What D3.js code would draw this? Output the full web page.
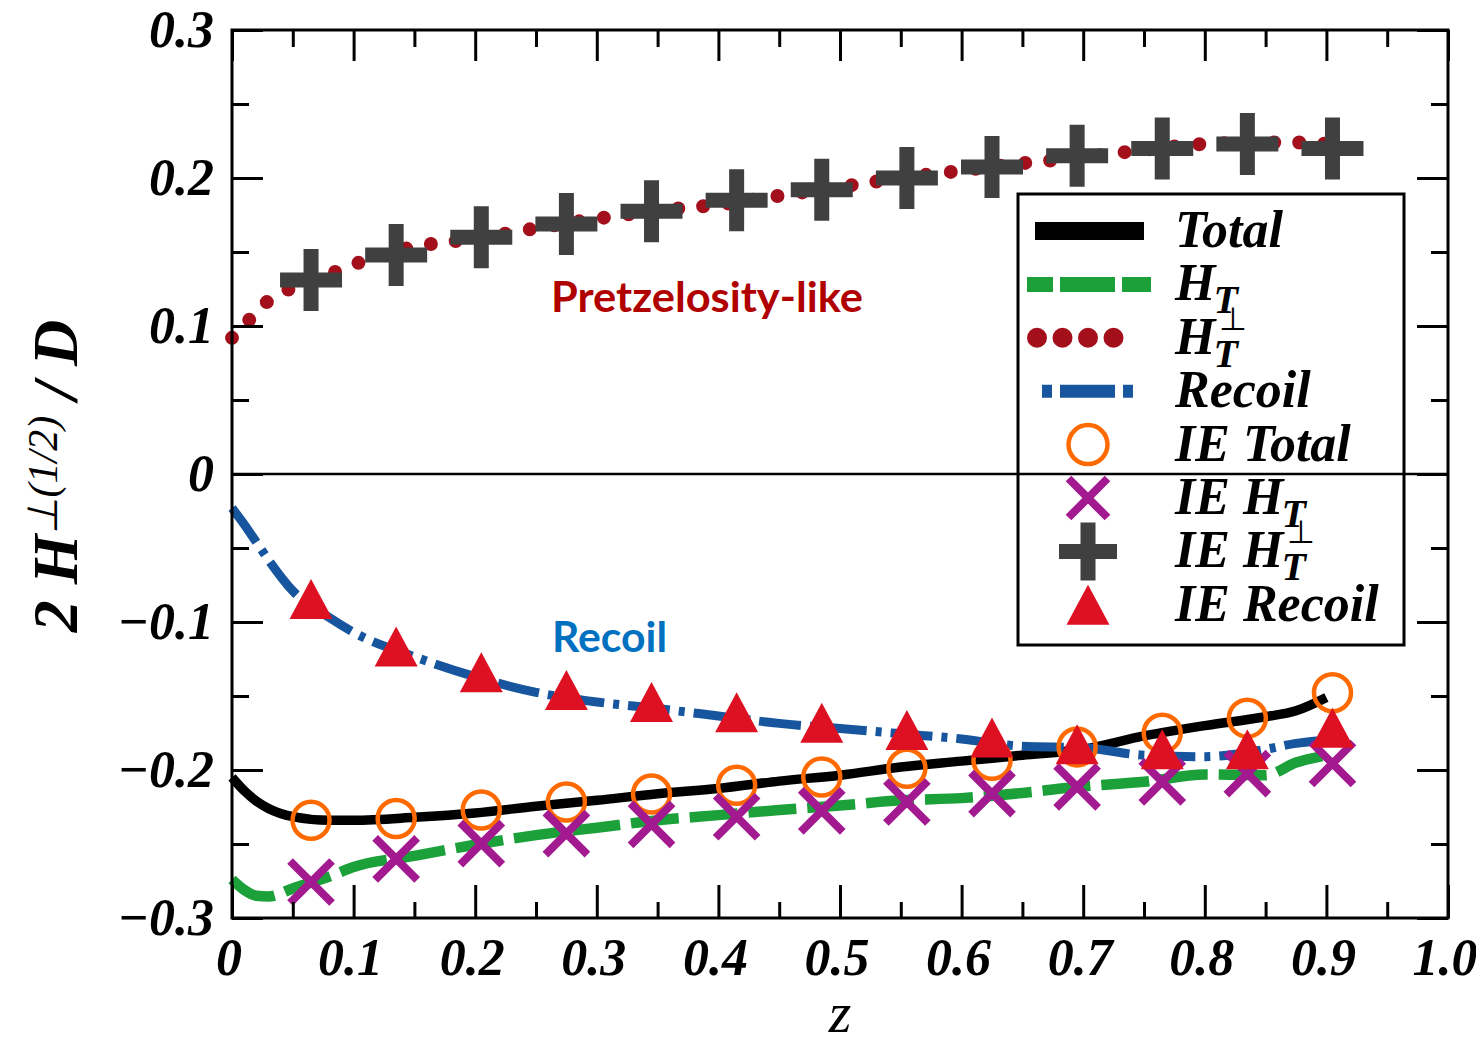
<!DOCTYPE html>
<html>
<head>
<meta charset="utf-8">
<script src="https://cdn.jsdelivr.net/npm/d3@7"></script>
<style>
  body { margin: 0; background: #fff; }
  svg { display: block; }
  .serif { font-family: "Liberation Serif", "Times New Roman", serif; font-style: italic; font-weight: bold; fill: #000; }
  .note { font-family: Lato, "Open Sans", sans-serif; font-weight: bold; }
</style>
</head>
<body>
<svg id="chart" width="1476" height="1046"></svg>
<script>
const zCurve = [0, 0.01, 0.02, 0.03, 0.05, 0.08, 0.1, 0.15, 0.2, 0.25, 0.3, 0.35, 0.4, 0.45,
                0.5, 0.55, 0.6, 0.65, 0.7, 0.75, 0.8, 0.85, 0.875, 0.9, 0.915];
const total  = [-0.205, -0.214, -0.221, -0.226, -0.2315, -0.234, -0.234, -0.232, -0.229, -0.2245,
                -0.2205, -0.216, -0.2125, -0.2075, -0.2035, -0.198, -0.194, -0.190, -0.186, -0.177,
                -0.170, -0.164, -0.160, -0.151, null];
const hT     = [-0.274, -0.281, -0.285, -0.2855, -0.280, -0.272, -0.2655, -0.258, -0.2505, -0.244,
                -0.239, -0.234, -0.2305, -0.227, -0.224, -0.2205, -0.219, -0.2155, -0.211, -0.208,
                -0.203, -0.2035, -0.195, -0.190, null];
const hTperp = [0.092, 0.100, 0.110, 0.117, 0.126, 0.135, 0.1415, 0.1535, 0.159, 0.166,
                0.1725, 0.178, 0.182, 0.188, 0.194, 0.200, 0.205, 0.210, 0.214, 0.219,
                0.223, 0.224, 0.224, 0.223, 0.222];
const recoil = [-0.023, -0.034, -0.046, -0.058, -0.079, -0.097, -0.107, -0.1235, -0.137, -0.1475,
                -0.154, -0.1585, -0.1635, -0.1685, -0.172, -0.1755, -0.179, -0.184, -0.185, -0.190,
                -0.191, -0.186, -0.182, -0.180, -0.180];

// IE points
const zIE      = [0.065, 0.135, 0.205, 0.275, 0.345, 0.415, 0.485, 0.555, 0.625, 0.695, 0.765, 0.835, 0.905];
const ieTotal  = [-0.234, -0.2328, -0.227, -0.2216, -0.2163, -0.2103, -0.2047, -0.1988, -0.1934, -0.1844, -0.1751, -0.165, -0.1478];
const ieHT     = [-0.2757, -0.260, -0.2497, -0.243, -0.2367, -0.2316, -0.2276, -0.2216, -0.216, -0.2114, -0.208, -0.2024, -0.1956];
const ieHTperp = [0.131, 0.148, 0.160, 0.169, 0.1775, 0.185, 0.192, 0.200, 0.2075, 0.215, 0.220, 0.223, 0.220];
const ieRecoil = [-0.0845, -0.1166, -0.134, -0.146, -0.154, -0.161, -0.168, -0.173, -0.178, -0.1826, -0.186, -0.186, -0.1714];

const xTicks = [0, 0.1, 0.2, 0.3, 0.4, 0.5, 0.6, 0.7, 0.8, 0.9, 1.0];
const xTickLabels = ["0", "0.1", "0.2", "0.3", "0.4", "0.5", "0.6", "0.7", "0.8", "0.9", "1.0"];
const yTicks = [-0.3, -0.2, -0.1, 0, 0.1, 0.2, 0.3];
const yTickLabels = ["\u22120.3", "\u22120.2", "\u22120.1", "0", "0.1", "0.2", "0.3"];

const colors = {
    total: "#000000", hT: "#1ba03a", hTperp: "#a40f1c", recoil: "#17569e",
    ieTotal: "#ff6a00", ieHT: "#a3198f", ieHTperp: "#404040", ieRecoil: "#dd1122"
};

const svg = d3.select("#chart");
const plot = {left: 232, right: 1448, top: 30, bottom: 918};

const x = d3.scaleLinear().domain([0, 1]).range([plot.left, plot.right]);
const y = d3.scaleLinear().domain([-0.3, 0.3]).range([plot.bottom, plot.top]);

// zero line
svg.append("line")
    .attr("x1", plot.left).attr("x2", plot.right)
    .attr("y1", y(0)).attr("y2", y(0))
    .attr("stroke", "#000").attr("stroke-width", 2.5);

// model curves
const line = d3.line()
    .defined(d => d[1] != null)
    .x(d => x(d[0]))
    .y(d => y(d[1]))
    .curve(d3.curveMonotoneX);

const curves = [
    {vals: total,  color: colors.total,  width: 9.5, dash: null},
    {vals: hT,     color: colors.hT,     width: 10.5, dash: "48 11"},
    {vals: hTperp, color: colors.hTperp, width: 14, dash: "0 25", cap: "round"},
    {vals: recoil, color: colors.recoil, width: 9,  dash: "42 9 6 9"}
];

curves.forEach(c => {
    svg.append("path")
        .datum(zCurve.map((z, i) => [z, c.vals[i]]))
        .attr("d", line)
        .attr("fill", "none")
        .attr("stroke", c.color)
        .attr("stroke-width", c.width)
        .attr("stroke-linecap", c.cap || "butt")
        .attr("stroke-dasharray", c.dash);
});

// marker shapes
function drawCircle(g, cx, cy, r) {
    g.append("circle").attr("cx", cx).attr("cy", cy).attr("r", r || 18.5)
        .attr("fill", "none").attr("stroke", colors.ieTotal).attr("stroke-width", 4.5);
}
function drawCross(g, cx, cy, h) {
    h = h || 21;
    g.append("path")
        .attr("d", `M${cx - h},${cy - h}L${cx + h},${cy + h}M${cx - h},${cy + h}L${cx + h},${cy - h}`)
        .attr("stroke", colors.ieHT).attr("stroke-width", 8).attr("fill", "none");
}
function drawPlus(g, cx, cy, a, t) {
    a = a || 31; t = t || 7.5;
    g.append("path")
        .attr("d", `M${cx - a},${cy - t}H${cx + a}V${cy + t}H${cx - a}Z M${cx - t},${cy - a}H${cx + t}V${cy + a}H${cx - t}Z`)
        .attr("fill", colors.ieHTperp);
}
function drawTriangle(g, cx, cy) {
    g.append("path")
        .attr("d", `M${cx},${cy - 20}L${cx + 21.5},${cy + 20}L${cx - 21.5},${cy + 20}Z`)
        .attr("fill", colors.ieRecoil);
}

const markers = svg.append("g");
zIE.forEach((z, i) => drawCircle(markers, x(z), y(ieTotal[i])));
zIE.forEach((z, i) => drawCross(markers, x(z), y(ieHT[i])));
zIE.forEach((z, i) => drawPlus(markers, x(z), y(ieHTperp[i])));
zIE.forEach((z, i) => drawTriangle(markers, x(z), y(ieRecoil[i])));

// ticks on all four sides (pointing inward)
function ticks(axisFn, scale, values, size, transform) {
    const g = svg.append("g").attr("transform", transform)
        .call(axisFn(scale).tickValues(values).tickSize(-size).tickFormat(""));
    g.select(".domain").remove();
    g.selectAll(".tick line").attr("stroke", "#000").attr("stroke-width", 3);
}
const xMinor = xTicks.slice(0, -1).map(v => v + 0.05);
const yMinor = yTicks.slice(0, -1).map(v => v + 0.05);

ticks(d3.axisBottom, x, xTicks, 33, `translate(0,${plot.bottom})`);
ticks(d3.axisBottom, x, xMinor, 16, `translate(0,${plot.bottom})`);
ticks(d3.axisTop, x, xTicks, 31, `translate(0,${plot.top})`);
ticks(d3.axisTop, x, xMinor, 17, `translate(0,${plot.top})`);
ticks(d3.axisLeft, y, yTicks, 31, `translate(${plot.left},0)`);
ticks(d3.axisLeft, y, yMinor, 17, `translate(${plot.left},0)`);
ticks(d3.axisRight, y, yTicks, 31, `translate(${plot.right},0)`);
ticks(d3.axisRight, y, yMinor, 17, `translate(${plot.right},0)`);

svg.append("rect")
    .attr("x", plot.left).attr("y", plot.top)
    .attr("width", plot.right - plot.left).attr("height", plot.bottom - plot.top)
    .attr("fill", "none").attr("stroke", "#000").attr("stroke-width", 3);

// tick labels
svg.append("g").selectAll("text")
    .data(xTicks)
    .join("text")
    .attr("class", "serif")
    .attr("x", d => x(d) - 3)
    .attr("y", 975)
    .attr("text-anchor", "middle")
    .style("font-size", "52px")
    .text((d, i) => xTickLabels[i]);

svg.append("g").selectAll("text")
    .data(yTicks)
    .join("text")
    .attr("class", "serif")
    .attr("x", 214)
    .attr("y", d => y(d) + 17)
    .attr("text-anchor", "end")
    .style("font-size", "52px")
    .text((d, i) => yTickLabels[i]);

// axis titles
svg.append("text")
    .attr("class", "serif")
    .attr("x", 840).attr("y", 1032)
    .attr("text-anchor", "middle")
    .style("font-size", "58px")
    .style("font-weight", "normal")
    .text("z");

const ylab = svg.append("text")
    .attr("class", "serif")
    .attr("transform", "translate(77,476) rotate(-90)")
    .attr("text-anchor", "middle")
    .style("font-size", "64px");
ylab.append("tspan").text("2 H");
ylab.append("tspan").attr("dy", -20).style("font-size", "42px").style("font-weight", "normal").text("\u22A5(1/2)");
ylab.append("tspan").attr("dy", 20).text(" / D");

// legend
const leg = {x0: 1018, y0: 194, x1: 1404, y1: 645, row0: 231, step: 53.4, sx: 1088, tx: 1175};
const legItems = [
    {main: "Total", kind: "total"},
    {main: "H", sub: "T", kind: "hT"},
    {main: "H", sub: "T", sup: "\u22A5", kind: "hTperp"},
    {main: "Recoil", kind: "recoil"},
    {main: "IE Total", kind: "ieTotal"},
    {main: "IE H", sub: "T", kind: "ieHT"},
    {main: "IE H", sub: "T", sup: "\u22A5", kind: "ieHTperp"},
    {main: "IE Recoil", kind: "ieRecoil"}
];

const lg = svg.append("g");
lg.append("rect")
    .attr("x", leg.x0).attr("y", leg.y0)
    .attr("width", leg.x1 - leg.x0).attr("height", leg.y1 - leg.y0)
    .attr("fill", "none").attr("stroke", "#000").attr("stroke-width", 3);

legItems.forEach((it, i) => {
    const cy = leg.row0 + i * leg.step;
    if (it.kind === "total") {
        lg.append("rect").attr("x", 1035).attr("y", cy - 9).attr("width", 109).attr("height", 18).attr("fill", colors.total);
    } else if (it.kind === "hT") {
        lg.append("line").attr("x1", 1027).attr("x2", 1151).attr("y1", cy).attr("y2", cy)
            .attr("stroke", colors.hT).attr("stroke-width", 15).attr("stroke-dasharray", "26 7 55 7 29");
    } else if (it.kind === "hTperp") {
        lg.append("line").attr("x1", 1037).attr("x2", 1139).attr("y1", cy).attr("y2", cy)
            .attr("stroke", colors.hTperp).attr("stroke-width", 20).attr("stroke-linecap", "round")
            .attr("stroke-dasharray", "0 25.5");
    } else if (it.kind === "recoil") {
        lg.append("line").attr("x1", 1042).attr("x2", 1133).attr("y1", cy).attr("y2", cy)
            .attr("stroke", colors.recoil).attr("stroke-width", 13).attr("stroke-dasharray", "10 8 55 8 10");
    } else if (it.kind === "ieTotal") {
        drawCircle(lg, leg.sx, cy, 19.5);
    } else if (it.kind === "ieHT") {
        drawCross(lg, leg.sx, cy, 19.5);
    } else if (it.kind === "ieHTperp") {
        drawPlus(lg, leg.sx, cy, 29, 7.5);
    } else if (it.kind === "ieRecoil") {
        drawTriangle(lg, leg.sx, cy);
    }

    const base = cy + 16;
    const t = lg.append("text").attr("class", "serif")
        .attr("x", leg.tx).attr("y", base)
        .style("font-size", "52px")
        .text(it.main);
    const w = t.node().getComputedTextLength();
    if (it.sub) {
        lg.append("text").attr("class", "serif")
            .attr("x", leg.tx + w - 2).attr("y", base + 13)
            .style("font-size", "40px").text(it.sub);
    }
    if (it.sup) {
        lg.append("text").attr("class", "serif")
            .attr("x", leg.tx + w + 4).attr("y", base - 24)
            .style("font-size", "32px").style("font-style", "normal").style("font-weight", "normal")
            .text(it.sup);
    }
});

// annotations
svg.append("text").attr("class", "note")
    .attr("x", 551).attr("y", 312)
    .attr("fill", "#b00000")
    .style("font-size", "42px")
    .attr("textLength", 312).attr("lengthAdjust", "spacingAndGlyphs")
    .text("Pretzelosity-like");

svg.append("text").attr("class", "note")
    .attr("x", 552).attr("y", 652)
    .attr("fill", "#0070c0")
    .style("font-size", "42px")
    .attr("textLength", 115).attr("lengthAdjust", "spacingAndGlyphs")
    .text("Recoil");
</script>
</body>
</html>
